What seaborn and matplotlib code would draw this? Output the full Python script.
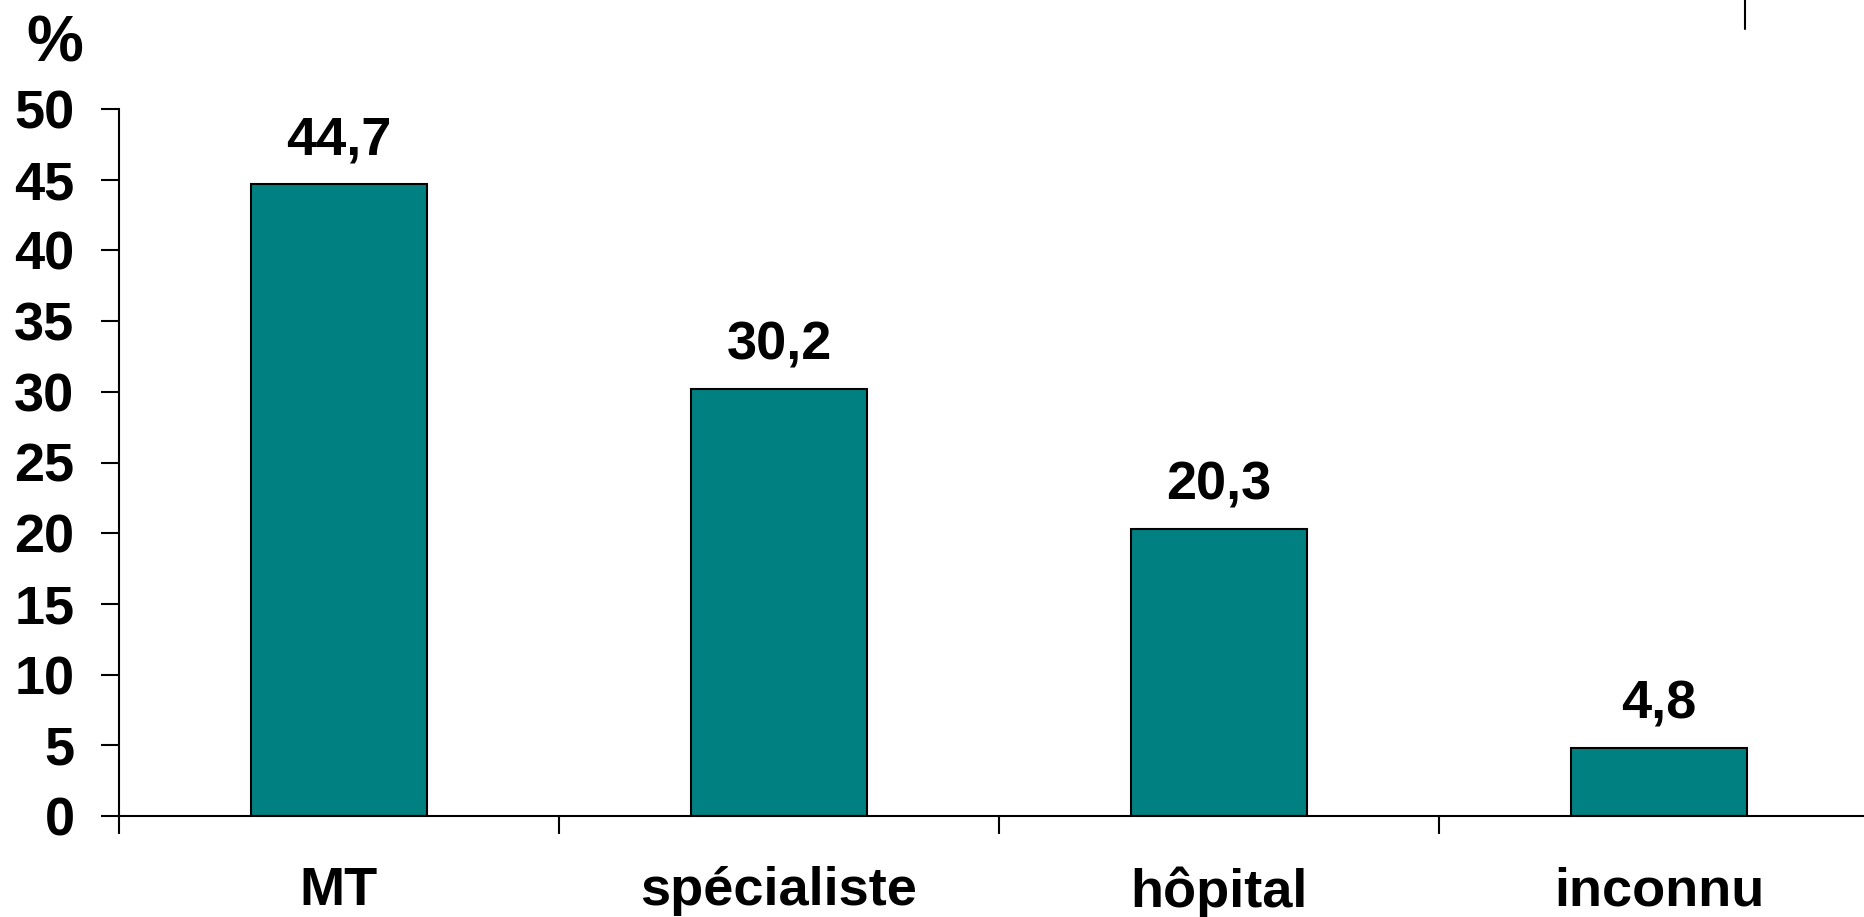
import matplotlib
matplotlib.use("Agg")
import matplotlib.pyplot as plt
import seaborn as sns
from matplotlib.lines import Line2D

categories = ["MT", "spécialiste", "hôpital", "inconnu"]
values = [44.7, 30.2, 20.3, 4.8]
value_labels = ["44,7", "30,2", "20,3", "4,8"]
yticks = [0, 5, 10, 15, 20, 25, 30, 35, 40, 45, 50]

sns.set_style("ticks")
plt.rcParams["font.family"] = ["Liberation Sans", "DejaVu Sans"]
plt.rcParams["font.weight"] = "bold"
plt.rcParams["text.color"] = "black"
plt.rcParams["xtick.color"] = "black"
plt.rcParams["ytick.color"] = "black"
plt.rcParams["xtick.labelcolor"] = "black"
plt.rcParams["ytick.labelcolor"] = "black"

W, H = 1865, 917
FS = 39
fig = plt.figure(figsize=(W / 100, H / 100), dpi=100)
ax = fig.add_axes([119 / W, 101 / H, 1760 / W, 707 / H])

sns.barplot(x=categories, y=values, color="#008080", saturation=1, width=0.4,
            edgecolor="black", linewidth=1.5, ax=ax)

ax.set_xlim(-0.5, len(categories) - 0.5)
ax.set_ylim(0, 50)
ax.set_yticks(yticks)
ax.set_yticklabels([str(v) for v in yticks], fontsize=FS, fontweight="bold",
                   color="black")
ax.set_xticks(range(len(categories)))
ax.set_xticklabels(categories, fontsize=FS, fontweight="bold", color="black")
ax.set_xticks([i - 0.5 for i in range(len(categories) + 1)], minor=True)
ax.tick_params(axis="x", which="major", length=0, pad=36)
ax.tick_params(axis="x", which="minor", length=13, width=1.5, color="black")
ax.tick_params(axis="y", length=13, width=1.5, color="black", pad=19)
ax.set_xlabel("")
ax.set_ylabel("")
for s in ["top", "right"]:
    ax.spines[s].set_visible(False)
for s in ["left", "bottom"]:
    ax.spines[s].set_linewidth(1.5)
    ax.spines[s].set_color("black")

for patch, lab in zip(ax.patches, value_labels):
    x = patch.get_x() + patch.get_width() / 2
    y = patch.get_height()
    ax.annotate(lab, (x, y), xytext=(0, 21), textcoords="offset points",
                ha="center", va="baseline", fontsize=FS, fontweight="bold",
                color="black", annotation_clip=False)

fig.text(55 / W, 1 - 45 / H, "%", ha="center", va="center", fontsize=46,
         fontweight="bold", color="black")
fig.add_artist(Line2D([1745 / W, 1745 / W], [1, 1 - 29 / H], color="black",
                      linewidth=1.5, transform=fig.transFigure))

fig.savefig("out.png", dpi=100, facecolor="white")
